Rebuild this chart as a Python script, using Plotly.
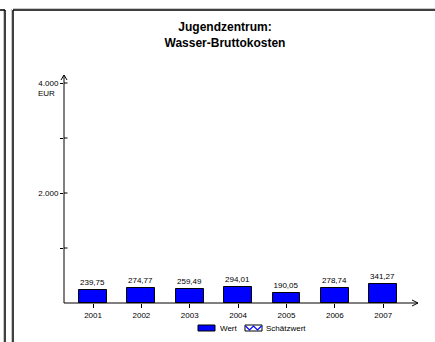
import plotly.graph_objects as go

# ---- data ----
years = ["2001", "2002", "2003", "2004", "2005", "2006", "2007"]
values = [239.75, 274.77, 259.49, 294.01, 190.05, 278.74, 341.27]
series_names = ["Wert", "Schätzwert"]
title_lines = ["Jugendzentrum:", "Wasser-Bruttokosten"]
y_major = [2000, 4000]
y_major_text = ["2.000", "4.000"]
y_minor = [1000, 3000]
y_unit = "EUR"

W, H = 435, 342
L, R, T, B = 64, 17, 75, 39
PW, PH = W - L - R, H - T - B
FONT = "Liberation Sans, Arial, sans-serif"


def px(x):
    return (x - L) / PW


def py(y):
    return (H - B - y) / PH


labels = [f"{v:.2f}".replace(".", ",") for v in values]

fig = go.Figure()
fig.add_trace(go.Bar(
    x=years, y=values, name=series_names[0],
    marker=dict(color="#0000FF", line=dict(color="black", width=1)),
    width=0.575,
    text=labels, textposition="outside", cliponaxis=False,
    textfont=dict(size=8, color="black", family=FONT),
    showlegend=False,
))

shapes = []
line_k = dict(color="black", width=1)
# axis lines
shapes.append(dict(type="line", xref="paper", yref="paper", x0=0, x1=1, y0=0, y1=0, line=line_k))
shapes.append(dict(type="line", xref="paper", yref="paper", x0=0, x1=0, y0=0, y1=1, line=line_k))
# arrow heads (open chevrons)
shapes.append(dict(type="path", xref="paper", yref="paper",
                   path=f"M{px(61)},{py(80)} L{px(64)},{py(75)} L{px(67)},{py(80)}", line=line_k))
shapes.append(dict(type="path", xref="paper", yref="paper",
                   path=f"M{px(412)},{py(300)} L{px(418)},{py(303)} L{px(412)},{py(306)}", line=line_k))
# inner halves of y ticks
for v in y_major + y_minor:
    shapes.append(dict(type="line", xref="paper", yref="y", x0=0, x1=px(67.5), y0=v, y1=v, line=line_k))
# frames (with light shadow)
for xx in (5, 13):
    shapes.append(dict(type="line", xref="paper", yref="paper", x0=px(xx - 1.5), x1=px(xx - 1.5),
                       y0=py(9), y1=py(345), line=dict(color="#c8c8c8", width=1)))
shapes.append(dict(type="line", xref="paper", yref="paper", x0=px(13), x1=px(440), y0=py(8.5), y1=py(8.5),
                   line=dict(color="#c8c8c8", width=1)))
shapes.append(dict(type="line", xref="paper", yref="paper", x0=px(5), x1=px(5), y0=py(10), y1=py(345),
                   line=dict(color="black", width=1.5)))
shapes.append(dict(type="line", xref="paper", yref="paper", x0=px(-2), x1=px(5), y0=py(10), y1=py(10),
                   line=dict(color="black", width=1.5)))
shapes.append(dict(type="line", xref="paper", yref="paper", x0=px(13), x1=px(13), y0=py(10), y1=py(345),
                   line=dict(color="black", width=1.5)))
shapes.append(dict(type="line", xref="paper", yref="paper", x0=px(13), x1=px(440), y0=py(10), y1=py(10),
                   line=dict(color="black", width=1.5)))
# legend swatches
shapes.append(dict(type="rect", xref="paper", yref="paper", x0=px(198), x1=px(215), y0=py(325), y1=py(331),
                   fillcolor="#0000FF", line=line_k))
shapes.append(dict(type="rect", xref="paper", yref="paper", x0=px(245), x1=px(262), y0=py(325), y1=py(331),
                   fillcolor="white", line=line_k))
zz = [(245.5, 326), (249.5, 330), (253.5, 326), (257.5, 330), (261.5, 326)]
shapes.append(dict(type="path", xref="paper", yref="paper",
                   path="M" + " L".join(f"{px(a)},{py(b)}" for a, b in zz),
                   line=dict(color="#0000FF", width=1.2)))

annotations = [
    dict(text=y_unit, xref="paper", yref="y", x=px(46), y=y_major[-1], yshift=-10,
         xanchor="center", yanchor="middle",
         showarrow=False, font=dict(size=8, color="black", family=FONT)),
    dict(text=series_names[0], xref="paper", yref="paper", x=px(218), y=py(328),
         xanchor="left", yanchor="middle",
         showarrow=False, font=dict(size=8, color="black", family=FONT)),
    dict(text=series_names[1], xref="paper", yref="paper", x=px(264), y=py(328),
         xanchor="left", yanchor="middle",
         showarrow=False, font=dict(size=8, color="black", family=FONT)),
]

fig.update_layout(
    width=W, height=H,
    margin=dict(l=L, r=R, t=T, b=B, pad=0),
    paper_bgcolor="white", plot_bgcolor="white",
    font=dict(family=FONT, size=8, color="black"),
    title=dict(text="<b>" + "<br>".join(title_lines) + "</b>",
               x=225 / W, xanchor="center", y=1 - 31 / H, yanchor="top",
               font=dict(size=12, color="black", family=FONT)),
    xaxis=dict(range=[-0.6, 6.72], showline=False, showgrid=False, zeroline=False,
               ticks="outside", ticklen=4, tickcolor="black", tickwidth=1,
               tickfont=dict(size=8, color="black")),
    yaxis=dict(range=[0, PH / 0.055], showline=False, showgrid=False, zeroline=False,
               tickvals=y_major, ticktext=y_major_text,
               ticks="outside", ticklen=3, tickcolor="black", tickwidth=1,
               minor=dict(tickvals=y_minor, ticks="outside", ticklen=3, tickcolor="black", tickwidth=1),
               tickfont=dict(size=8, color="black")),
    shapes=shapes, annotations=annotations,
    showlegend=False, bargap=0,
)

fig.write_html("out.html", config={"displayModeBar": False},
               post_script="document.body.style.margin='0';document.body.style.overflow='hidden';")
